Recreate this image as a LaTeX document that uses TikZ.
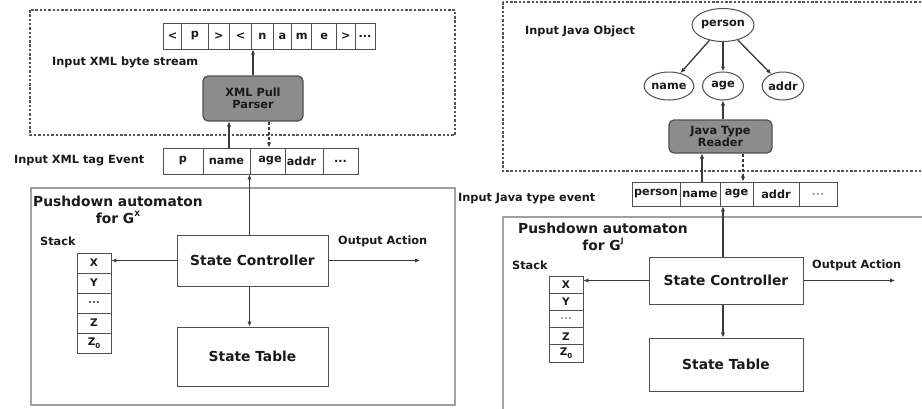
\documentclass[tikz,border=0pt]{standalone}
\usepackage{fontspec}
\setmainfont{DejaVu Sans}
\usetikzlibrary{arrows.meta,shapes.geometric,calc}
\definecolor{txt}{HTML}{1A1A1A}
\definecolor{edge}{HTML}{505050}
\definecolor{pdbox}{HTML}{A0A0A0}
\definecolor{dbox}{HTML}{555555}
\definecolor{pfill}{HTML}{8C8C8C}
\definecolor{arr}{HTML}{3A3A3A}
\newcommand{\labfont}{\fontsize{11.3}{12.5}\selectfont\bfseries}
\newcommand{\bigfont}{\fontsize{13.8}{17}\selectfont\bfseries}
\newcommand{\mysup}[1]{\raisebox{0.55em}{\fontsize{7.5}{7.5}\selectfont #1}}
\newcommand{\mysub}[1]{\raisebox{-0.25em}{\fontsize{7}{7}\selectfont #1}}
\begin{document}
\begin{tikzpicture}[x=1pt,y=-1pt,
  every node/.style={text=txt},
  lab/.style={font=\labfont, inner sep=0, anchor=west},
  cell/.style={draw=edge, line width=0.9pt, inner sep=0, font=\labfont},
  bcell/.style={cell, minimum height=26},
  tcell/.style={cell, minimum height=26},
  jcell/.style={cell, minimum height=24},
  scell/.style={cell, minimum width=34, font=\fontsize{10.5}{10.5}\selectfont\bfseries},
  proc/.style={draw=edge, fill=pfill, line width=1.2pt, rounded corners=5pt, inner sep=0, align=center, font=\labfont},
  ctrl/.style={draw=edge, line width=1pt, inner sep=0, font=\bigfont},
  obj/.style={ellipse, draw=edge, line width=1pt, inner sep=0, minimum height=28, font=\labfont},
  conn/.style={draw=arr, line width=1.3pt, -{Latex[length=5pt,width=4.5pt]}},
  dconn/.style={conn, dashed, dash pattern=on 3pt off 2pt},
  dashbox/.style={draw=dbox, line width=1.1pt, dash pattern=on 2.5pt off 1.8pt},
  pushbox/.style={draw=pdbox, line width=2pt}
]
\useasboundingbox (0,0) rectangle (922,408);
\fill[white] (0,0) rectangle (922,408);

% ---------------- LEFT ----------------
\draw[dashbox] (30,10) rectangle (455,135);
\draw[pushbox] (31,188) rectangle (455,405);

% byte stream
\node[bcell, minimum width=18.4] (b1) at (172.5,36) {<};
\node[bcell, minimum width=26.6] (b2) at (195,36) {p};
\node[bcell, minimum width=21] (b3) at (218.8,36) {>};
\node[bcell, minimum width=22.4] (b4) at (240.5,36) {<};
\node[bcell, minimum width=21.6] (b5) at (262.5,36) {n};
\node[bcell, minimum width=18.4] (b6) at (282.5,36) {a};
\node[bcell, minimum width=20] (b7) at (301.7,36) {m};
\node[bcell, minimum width=25] (b8) at (324.2,36) {e};
\node[bcell, minimum width=18.3] (b9) at (345.8,36) {>};
\node[bcell, minimum width=20] (b10) at (365,36) {...};
\node[lab] (lbs) at (52,62) {Input XML byte stream};

\node[proc, minimum width=100, minimum height=45] (parser) at (253,98.5) {XML Pull\\Parser};

% tag events
\node[tcell, minimum width=40] (t1) at (183,161) {p};
\node[tcell, minimum width=47] (t2) at (226.5,161) {name};
\node[tcell, minimum width=35] (t3) at (267.5,161) {\hspace*{5pt}age};
\node[tcell, minimum width=38] (t4) at (304,161) {addr\hspace*{5pt}};
\node[tcell, minimum width=35] (t5) at (340.5,161) {...};
\node[lab] (lte) at (14,161) {Input XML tag Event};

\node[font=\bigfont, align=center, inner sep=0] (lpda) at (118,210) {Pushdown automaton\\for G\mysup{X}};
\node[lab] (lstk) at (40,241) {Stack};
\node[lab] (lout) at (338,241) {Output Action};

\node[ctrl, minimum width=151, minimum height=51] (lsc) at (252.5,260.5) {State Controller};
\node[ctrl, minimum width=151, minimum height=59] (lst) at (252.5,356.5) {State Table};

\node[scell, minimum height=20] (ls1) at (94,263) {X};
\node[scell, minimum height=20] (ls2) at (94,283) {Y};
\node[scell, minimum height=20, text=edge] (ls3) at (94,303) {...};
\node[scell, minimum height=20] (ls4) at (94,323) {Z};
\node[scell, minimum height=20] (ls5) at (94,343) {Z\mysub{0}};

\coordinate (loutend) at (420,260.5);

\draw[conn] (parser.north) -- (parser.north |- b5.south);
\draw[conn] ([xshift=-24pt]parser.south |- t2.north) -- ([xshift=-24pt]parser.south);
\draw[dconn] ([xshift=16pt]parser.south) -- ([xshift=16pt]parser.south |- t3.north);
\draw[conn] ([xshift=-3pt]lsc.north) -- ([xshift=-3pt]lsc.north |- t3.south);
\draw[conn] ([xshift=-3pt]lsc.south) -- ([xshift=-3pt]lst.north);
\draw[conn] (lsc.west) -- (lsc.west -| ls1.east);
\draw[conn] (lsc.east) -- (loutend);

% ---------------- RIGHT ----------------
\draw[dashbox] (503,2) rectangle (930,171);
\draw[pushbox] (503,217) rectangle (930,415);

\node[lab] (ljo) at (525,31) {Input Java Object};
\node[obj, minimum width=53, minimum height=33] (person) at (723,25) {person};
\node[obj, minimum width=39] (oname) at (669,86) {name};
\node[obj, minimum width=41] (oage) at (723,86) {age};
\node[obj, minimum width=40] (oaddr) at (783,86) {addr};

\node[proc, minimum width=103, minimum height=33] (reader) at (720.5,136.5) {Java Type\\Reader};

\node[jcell, minimum width=48] (j1) at (656,194) {person};
\node[jcell, minimum width=40] (j2) at (700,194) {name};
\node[jcell, minimum width=33] (j3) at (736.5,194) {age};
\node[jcell, minimum width=46] (j4) at (776,194) {addr};
\node[jcell, minimum width=38, text=pdbox] (j5) at (818,194) {...};
\node[lab] (lje) at (458,199) {Input Java type event};

\node[font=\bigfont, align=center, inner sep=0] (rpda) at (603,237) {Pushdown automaton\\for G\mysup{J}};
\node[lab] (rstk) at (512,265) {Stack};
\node[lab] (rout) at (812,265) {Output Action};

\node[ctrl, minimum width=154, minimum height=47] (rsc) at (726,280.5) {State Controller};
\node[ctrl, minimum width=154, minimum height=53] (rst) at (726,364.5) {State Table};

\node[scell, minimum height=17.2] (rs1) at (566,284.6) {X};
\node[scell, minimum height=17.2] (rs2) at (566,301.8) {Y};
\node[scell, minimum height=17.2, text=pdbox] (rs3) at (566,319) {...};
\node[scell, minimum height=17.2] (rs4) at (566,336.2) {Z};
\node[scell, minimum height=17.2] (rs5) at (566,353.4) {Z\mysub{0}};

\coordinate (routend) at (895,280.5);

\draw[conn] (person) -- (oname);
\draw[conn] (person) -- (oage);
\draw[conn] (person) -- (oaddr);
\draw[conn] (oage.south |- reader.north) -- (oage.south);
\draw[conn] ([xshift=-18.5pt]reader.south |- j2.north) -- ([xshift=-18.5pt]reader.south);
\draw[dconn] ([xshift=22.5pt]reader.south) -- ([xshift=22.5pt]reader.south |- j3.north);
\draw[conn] ([xshift=-3pt]rsc.north) -- ([xshift=-3pt]rsc.north |- j3.south);
\draw[conn] ([xshift=-3pt]rsc.south) -- ([xshift=-3pt]rst.north);
\draw[conn] (rsc.west) -- (rsc.west -| rs1.east);
\draw[conn] (rsc.east) -- (routend);
\end{tikzpicture}
\end{document}
